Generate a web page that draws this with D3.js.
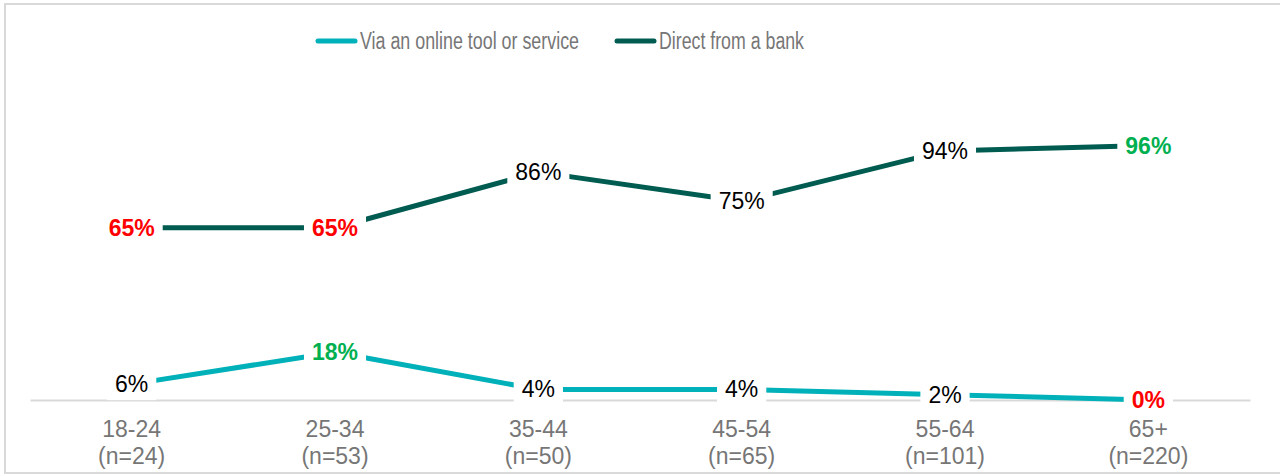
<!DOCTYPE html>
<html>
<head>
<meta charset="utf-8">
<script src="https://cdn.jsdelivr.net/npm/d3@7"></script>
<style>
  html, body { margin: 0; padding: 0; background: #fff; }
  svg { display: block; font-family: "Liberation Sans", Arial, sans-serif; }
</style>
</head>
<body>
<svg id="chart" width="1280" height="475"></svg>
<script>
(function () {
  'use strict';

  // ── Data ────────────────────────────────────────────────────────────────
  const categories = ['18-24', '25-34', '35-44', '45-54', '55-64', '65+'];
  const sampleSizes = ['(n=24)', '(n=53)', '(n=50)', '(n=65)', '(n=101)', '(n=220)'];
  const seriesNames = ['Via an online tool or service', 'Direct from a bank'];
  const onlineValues = [6, 18, 4, 4, 2, 0];
  const bankValues = [65, 65, 86, 75, 94, 96];

  const colors = ['#00b1b9', '#005c51'];
  const series = [
    { name: seriesNames[0], values: onlineValues, color: colors[0] },
    { name: seriesNames[1], values: bankValues, color: colors[1] }
  ];

  const svg = d3.select('#chart');
  const W = 1280;
  const plot = { left: 30, right: 1250, top: 135, bottom: 400 };

  // frame
  svg.append('rect')
    .attr('x', 5).attr('y', 4)
    .attr('width', W + 10).attr('height', 469)
    .attr('fill', 'none')
    .attr('stroke', '#d9d9d9')
    .attr('stroke-width', 2);

  const x = d3.scaleBand().domain(categories).range([plot.left, plot.right]);
  const y = d3.scaleLinear().domain([0, 100]).range([plot.bottom, plot.top]);
  const cx = c => x(c) + x.bandwidth() / 2;

  // ── Axis ────────────────────────────────────────────────────────────────
  const axis = svg.append('g')
    .attr('transform', `translate(0,${plot.bottom})`)
    .call(d3.axisBottom(x).tickSize(0).tickSizeOuter(0).tickPadding(0));
  axis.select('.domain').attr('stroke', '#d9d9d9').attr('stroke-width', 2);
  axis.selectAll('.tick text').each(function (d, i) {
    const t = d3.select(this)
      .text(null)
      .attr('fill', '#767676')
      .attr('font-size', 23)
      .attr('font-family', '"Liberation Sans", Arial, sans-serif')
      .attr('y', 0).attr('dy', null);
    t.append('tspan').attr('x', 0).attr('y', 37).text(d);
    t.append('tspan').attr('x', 0).attr('y', 63.5).text(sampleSizes[i]);
  });

  // ── Lines ───────────────────────────────────────────────────────────────
  const line = d3.line()
    .x((v, i) => cx(categories[i]))
    .y(v => y(v));

  series.forEach(s => {
    svg.append('path')
      .datum(s.values)
      .attr('d', line)
      .attr('fill', 'none')
      .attr('stroke', s.color)
      .attr('stroke-width', 5)
      .attr('stroke-linejoin', 'round');
  });

  // ── Data labels (max = green bold, min = red bold) ──────────────────────
  series.forEach(s => {
    const mx = d3.max(s.values), mn = d3.min(s.values);
    s.values.forEach((v, i) => {
      const g = svg.append('g')
        .attr('transform', `translate(${cx(categories[i])},${y(v)})`);
      const bg = g.append('rect').attr('fill', '#fff');
      const txt = g.append('text')
        .attr('text-anchor', 'middle')
        .attr('dy', '0.35em')
        .attr('font-size', 23)
        .attr('font-weight', (v === mx || v === mn) ? 'bold' : 'normal')
        .attr('fill', v === mx ? '#00b050' : v === mn ? '#ff0000' : '#000')
        .text(v + '%');
      const b = txt.node().getBBox();
      bg.attr('x', b.x - 8).attr('y', b.y - 3)
        .attr('width', b.width + 16).attr('height', b.height + 6);
    });
  });

  // ── Legend (narrow face) ────────────────────────────────────────────────
  const legendX = [316, 615];
  const legendTextW = [219, 145];
  series.forEach((s, i) => {
    const g = svg.append('g').attr('transform', `translate(${legendX[i]},41)`);
    g.append('line')
      .attr('x1', 2).attr('x2', 39)
      .attr('stroke', s.color)
      .attr('stroke-width', 5)
      .attr('stroke-linecap', 'round');
    g.append('text')
      .attr('x', 44)
      .attr('dy', '0.35em')
      .attr('font-size', 23)
      .attr('fill', '#767676')
      .attr('textLength', legendTextW[i])
      .attr('lengthAdjust', 'spacingAndGlyphs')
      .text(s.name);
  });
})();
</script>
</body>
</html>
